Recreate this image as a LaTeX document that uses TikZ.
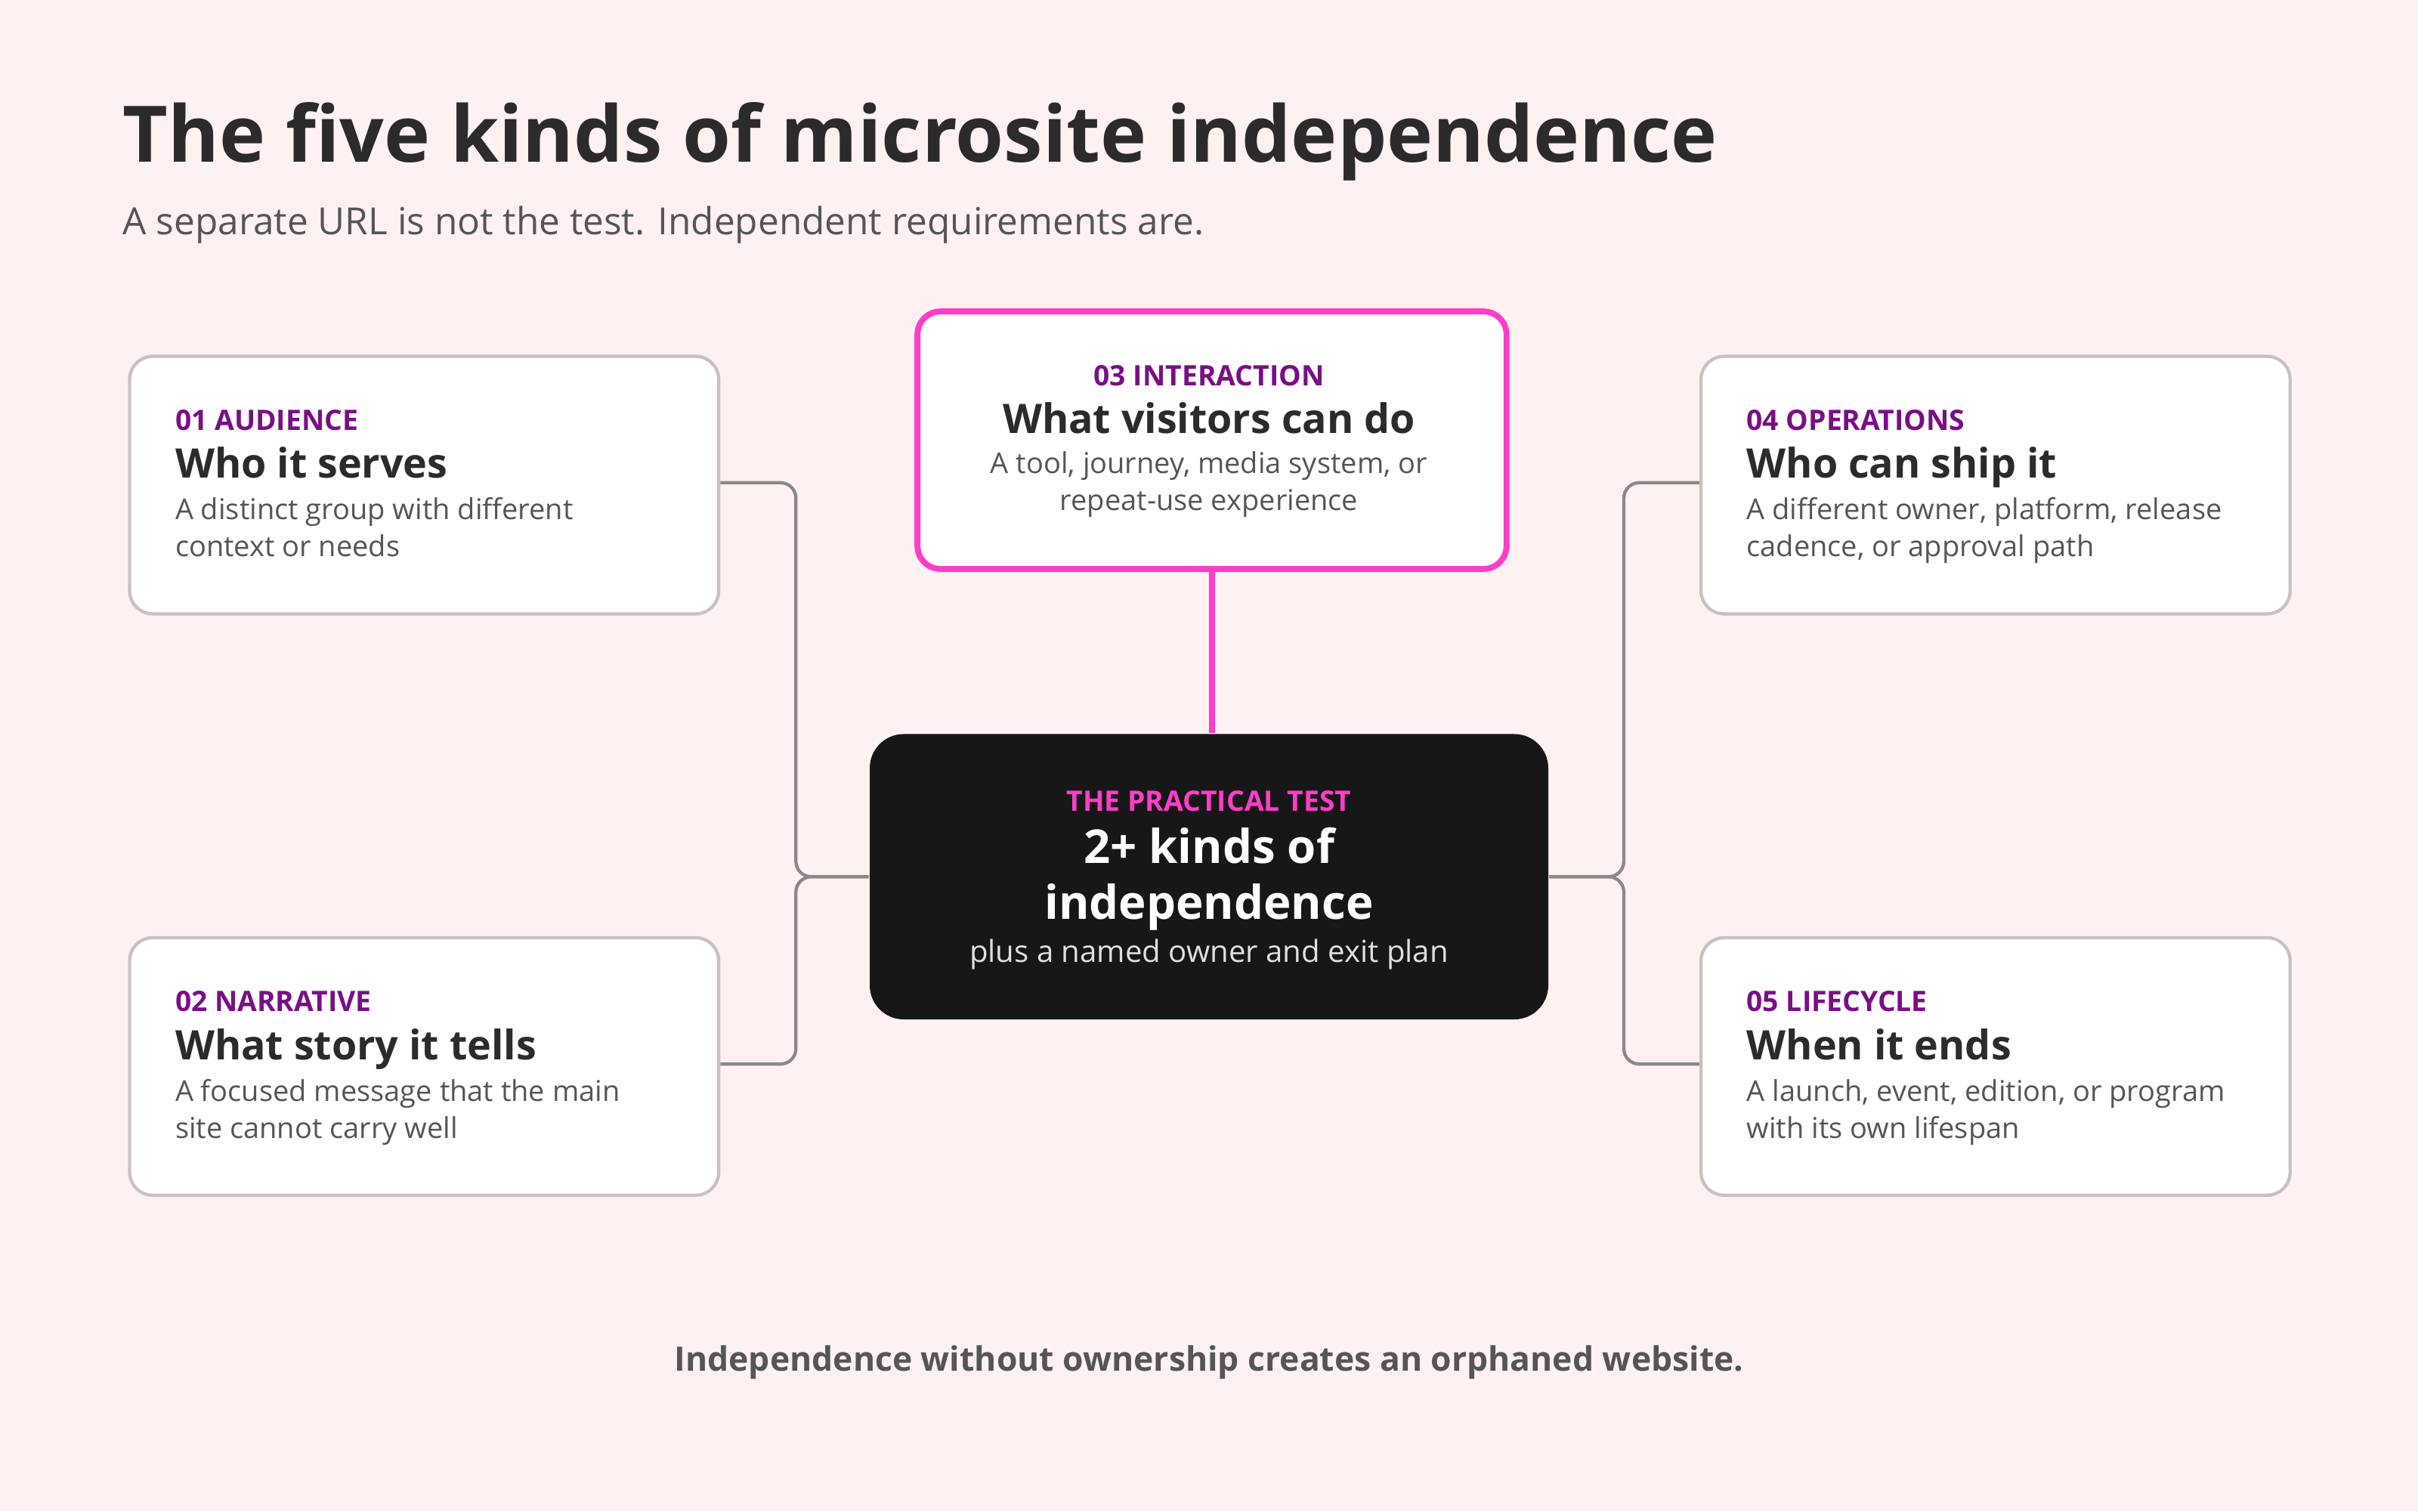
\documentclass[tikz,border=0pt]{standalone}
\usepackage{fontspec}
\setmainfont{Open Sans}
\usetikzlibrary{positioning}
\definecolor{bg}{HTML}{FFF1F1}
\definecolor{ink}{HTML}{2B2B2B}
\definecolor{grey}{HTML}{555555}
\definecolor{plum}{HTML}{7A0E86}
\definecolor{hot}{HTML}{FF3DC8}
\definecolor{edge}{HTML}{C9C1C1}
\definecolor{wire}{HTML}{8C8888}
\definecolor{coal}{HTML}{171717}
\newcommand{\fs}[1]{\fontsize{#1}{1.2\dimexpr#1\relax}\selectfont}
\tikzset{
  card/.style={draw=edge,line width=0.6pt,fill=white,rounded corners=0.15cm,
    minimum width=3.82cm,minimum height=1.67cm,anchor=north west,inner sep=0},
  tag/.style={anchor=base west,inner sep=0,text=plum,font=\fs{5.2pt}\bfseries},
  head/.style={anchor=base west,inner sep=0,text=ink,font=\fs{7.5pt}\bfseries},
  blurb/.style={anchor=base west,inner sep=0,text=grey,font=\fs{5.3pt}},
  link/.style={draw=wire,line width=0.6pt,rounded corners=0.1cm}
}
\begin{document}
\begin{tikzpicture}
  \fill[bg] (0,0) rectangle (15.68,-9.8);
  \useasboundingbox (0,0) rectangle (15.68,-9.8);

  \node[anchor=base west,inner sep=0,text=ink,font=\fs{14.4pt}\bfseries] (title) at (0.79,-1.05) {The five kinds of microsite independence};
  \node[anchor=base west,inner sep=0,text=grey,font=\fs{6.9pt}] (sub) at (0.79,-1.52) {A separate URL is not the test. Independent requirements are.};

  % cards
  \node[card] (aud) at (0.83,-2.30) {};
  \node[card] (nar) at (0.83,-6.07) {};
  \node[card,draw=hot,line width=1.1pt] (int) at (5.93,-2.00) {};
  \node[card] (ops) at (11.02,-2.30) {};
  \node[card] (life) at (11.02,-6.07) {};
  \node[fill=coal,rounded corners=0.22cm,minimum width=4.40cm,minimum height=1.85cm,inner sep=0] (test) at (7.84,-5.685) {};

  % card texts
  \node[tag] at (1.13,-2.79) {01 AUDIENCE};
  \node[head] at (1.13,-3.10) {Who it serves};
  \node[blurb] at (1.13,-3.37) {A distinct group with different};
  \node[blurb] at (1.13,-3.61) {context or needs};

  \node[tag] at (1.13,-6.56) {02 NARRATIVE};
  \node[head] at (1.13,-6.87) {What story it tells};
  \node[blurb] at (1.13,-7.14) {A focused message that the main};
  \node[blurb] at (1.13,-7.38) {site cannot carry well};

  \node[tag,anchor=base] at (7.84,-2.50) {03 INTERACTION};
  \node[head,anchor=base] at (7.84,-2.81) {What visitors can do};
  \node[blurb,anchor=base] at (7.84,-3.07) {A tool, journey, media system, or};
  \node[blurb,anchor=base] at (7.84,-3.31) {repeat-use experience};

  \node[tag] at (11.32,-2.79) {04 OPERATIONS};
  \node[head] at (11.32,-3.10) {Who can ship it};
  \node[blurb] at (11.32,-3.37) {A different owner, platform, release};
  \node[blurb] at (11.32,-3.61) {cadence, or approval path};

  \node[tag] at (11.32,-6.56) {05 LIFECYCLE};
  \node[head] at (11.32,-6.87) {When it ends};
  \node[blurb] at (11.32,-7.14) {A launch, event, edition, or program};
  \node[blurb] at (11.32,-7.38) {with its own lifespan};

  \node[tag,anchor=base,text=hot] at (7.84,-5.26) {THE PRACTICAL TEST};
  \node[head,anchor=base,text=white,font=\fs{8.6pt}\bfseries] at (7.84,-5.60) {2+ kinds of};
  \node[head,anchor=base,text=white,font=\fs{8.6pt}\bfseries] at (7.84,-5.96) {independence};
  \node[blurb,anchor=base,text=white!88!black,font=\fs{5.6pt}] at (7.84,-6.24) {plus a named owner and exit plan};

  % connectors
  \draw[link] ([yshift=-0.83cm]aud.north east) -- ++(0.49,0) |- (test.west);
  \draw[link] ([yshift=-0.83cm]nar.north east) -- ++(0.49,0) |- (test.west);
  \draw[link] ([yshift=-0.83cm]ops.north west) -- ++(-0.49,0) |- (test.east);
  \draw[link] ([yshift=-0.83cm]life.north west) -- ++(-0.49,0) |- (test.east);
  \draw[hot,line width=1.1pt] (int.south) -- (int.south |- test.north);

  \node[anchor=base,inner sep=0,text=grey,font=\fs{6.2pt}\bfseries] (foot) at (7.84,-8.89) {Independence without ownership creates an orphaned website.};
\end{tikzpicture}
\end{document}
